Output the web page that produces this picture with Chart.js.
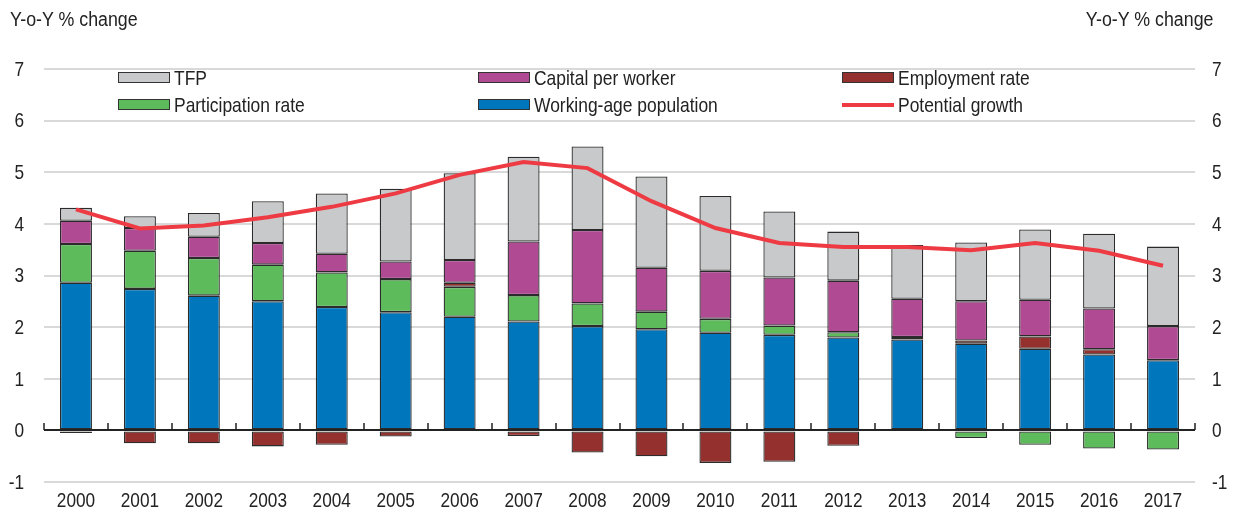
<!DOCTYPE html>
<html>
<head>
<meta charset="utf-8">
<script src="https://cdn.jsdelivr.net/npm/chart.js@4"></script>
<style>
  html, body { margin: 0; padding: 0; background: #fff; }
  #wrap { position: relative; width: 1234px; height: 511px; font-family: "Liberation Sans", Arial, sans-serif; color: #222; }
  canvas { position: absolute; left: 0; top: 0; }
  .unit { position: absolute; top: 9px; font-size: 20px; line-height: 20px; transform: scaleX(0.89); }
  .legend { position: absolute; font-size: 21px; line-height: 21px; display: flex; align-items: center; white-space: nowrap; }
  .legend .box { width: 50px; height: 9px; border: 1px solid #333; margin-right: 4px; }
  .legend .ln { width: 52px; height: 4px; margin-right: 4px; }
  .legend .txt { display: inline-block; transform: scaleX(0.83); transform-origin: left center; }
</style>
</head>
<body>
<div id="wrap">
  <canvas id="chart" width="1234" height="511"></canvas>
  <div class="unit" style="left:10px; transform-origin:left top">Y-o-Y % change</div>
  <div class="unit" style="right:21px; transform-origin:right top">Y-o-Y % change</div>
  <div id="legend"></div>
</div>
<script>
Chart.defaults.animation = false;

// --- Data ---
const years = ['2000', '2001', '2002', '2003', '2004', '2005', '2006', '2007', '2008',
  '2009', '2010', '2011', '2012', '2013', '2014', '2015', '2016', '2017'];

const workingAge    = [2.86, 2.74, 2.61, 2.50, 2.39, 2.29, 2.20, 2.11, 2.02, 1.96, 1.89, 1.85, 1.80, 1.76, 1.68, 1.58, 1.47, 1.36];
const participation = [0.75, 0.74, 0.73, 0.71, 0.67, 0.64, 0.58, 0.51, 0.44, 0.34, 0.27, 0.18, 0.10, -0.02, -0.15, -0.28, -0.35, -0.37];
const employment    = [-0.05, -0.25, -0.25, -0.31, -0.28, -0.12, 0.08, -0.11, -0.43, -0.50, -0.63, -0.61, -0.30, 0.05, 0.06, 0.24, 0.10, 0.00];
const capital       = [0.45, 0.44, 0.41, 0.42, 0.36, 0.34, 0.44, 1.04, 1.42, 0.85, 0.93, 0.93, 1.00, 0.74, 0.76, 0.71, 0.79, 0.66];
const tfp           = [0.25, 0.23, 0.46, 0.81, 1.17, 1.41, 1.68, 1.64, 1.62, 1.77, 1.45, 1.28, 0.95, 1.04, 1.14, 1.36, 1.45, 1.54];
const potential     = [4.28, 3.91, 3.97, 4.13, 4.33, 4.59, 4.95, 5.20, 5.08, 4.44, 3.92, 3.63, 3.55, 3.55, 3.49, 3.63, 3.48, 3.19];

const yTicks = [-1, 0, 1, 2, 3, 4, 5, 6, 7];

// --- Colours ---
const colors = {
  tfp: '#c8c9cb',
  capital: '#b04a93',
  employment: '#94302d',
  participation: '#5dbb5b',
  workingAge: '#0077bd',
  potential: '#ee3b43'
};

// --- Legend (HTML) ---
const legendItems = [
  { label: 'TFP', color: colors.tfp, x: 118, y: 67 },
  { label: 'Capital per worker', color: colors.capital, x: 478, y: 67 },
  { label: 'Employment rate', color: colors.employment, x: 842, y: 67 },
  { label: 'Participation rate', color: colors.participation, x: 118, y: 94 },
  { label: 'Working-age population', color: colors.workingAge, x: 478, y: 94 },
  { label: 'Potential growth', color: colors.potential, x: 842, y: 94, line: true }
];
const legendEl = document.getElementById('legend');
legendItems.forEach(item => {
  const div = document.createElement('div');
  div.className = 'legend';
  div.style.left = item.x + 'px';
  div.style.top = item.y + 'px';
  div.innerHTML = (item.line
    ? `<span class="ln" style="background:${item.color}"></span>`
    : `<span class="box" style="background:${item.color}"></span>`) + `<span class="txt">${item.label}</span>`;
  legendEl.appendChild(div);
});

// --- Zero line with small tick marks between years ---
const zeroTicks = {
  id: 'zeroTicks',
  afterDatasetsDraw(chart) {
    const { ctx, scales: { x, y } } = chart;
    const y0 = Math.round(y.getPixelForValue(0));
    const step = x.width / years.length;
    ctx.save();
    ctx.strokeStyle = '#222';
    ctx.lineWidth = 2;
    ctx.beginPath();
    ctx.moveTo(x.left, y0);
    ctx.lineTo(x.right, y0);
    ctx.stroke();
    ctx.lineWidth = 1.5;
    ctx.beginPath();
    for (let i = 0; i <= years.length; i++) {
      const px = Math.round(x.left + i * step);
      ctx.moveTo(px, y0);
      ctx.lineTo(px, y0 - 7);
    }
    ctx.stroke();
    ctx.restore();
  }
};

// --- Narrow tick labels (positions taken from the scales) ---
const SQUEEZE = 0.82;
const narrowLabels = {
  id: 'narrowLabels',
  afterDraw(chart) {
    const { ctx, scales } = chart;
    ctx.save();
    ctx.fillStyle = '#222';
    ctx.font = '21px "Liberation Sans", Arial, sans-serif';
    ctx.textBaseline = 'middle';
    const put = (text, px, py, align) => {
      ctx.save();
      ctx.translate(px, py);
      ctx.scale(SQUEEZE, 1);
      ctx.textAlign = align;
      ctx.fillText(text, 0, 0);
      ctx.restore();
    };
    scales.x.ticks.forEach((t, i) => {
      put(years[t.value], scales.x.getPixelForTick(i), 501, 'center');
    });
    scales.y.ticks.forEach(t => {
      put(String(t.value), 24, scales.y.getPixelForValue(t.value) + 1, 'right');
    });
    scales.y2.ticks.forEach(t => {
      put(String(t.value), 1212, scales.y2.getPixelForValue(t.value) + 1, 'left');
    });
    ctx.restore();
  }
};

const bar = (label, data, color) => ({
  type: 'bar',
  label,
  data,
  backgroundColor: color,
  borderColor: '#2b2b2b',
  borderWidth: 1.3,
  borderSkipped: false,
  barPercentage: 0.5,
  categoryPercentage: 1,
  stack: 's',
  order: 2
});

new Chart(document.getElementById('chart'), {
  data: {
    labels: years,
    datasets: [
      bar('Working-age population', workingAge, colors.workingAge),
      bar('Participation rate', participation, colors.participation),
      bar('Employment rate', employment, colors.employment),
      bar('Capital per worker', capital, colors.capital),
      bar('TFP', tfp, colors.tfp),
      {
        type: 'line',
        label: 'Potential growth',
        data: potential,
        borderColor: colors.potential,
        borderWidth: 4,
        pointRadius: 0,
        tension: 0,
        order: 1
      }
    ]
  },
  options: {
    responsive: false,
    layout: { padding: { top: 69, bottom: 0 } },
    plugins: { legend: { display: false }, tooltip: { enabled: false } },
    scales: {
      x: {
        stacked: true,
        grid: { display: false },
        border: { display: false },
        ticks: { display: false },
        afterFit: s => { s.height = 29; }
      },
      y: {
        stacked: true,
        min: -1,
        max: 7,
        afterBuildTicks: s => { s.ticks = yTicks.map(v => ({ value: v })); },
        afterFit: s => { s.width = 44; },
        grid: { color: '#d9d9d9', lineWidth: 2, drawTicks: false },
        border: { display: false },
        ticks: { display: false }
      },
      y2: {
        position: 'right',
        min: -1,
        max: 7,
        afterBuildTicks: s => { s.ticks = yTicks.map(v => ({ value: v })); },
        afterFit: s => { s.width = 39; },
        grid: { display: false, drawTicks: false },
        border: { display: false },
        ticks: { display: false }
      }
    }
  },
  plugins: [zeroTicks, narrowLabels]
});
</script>
</body>
</html>
